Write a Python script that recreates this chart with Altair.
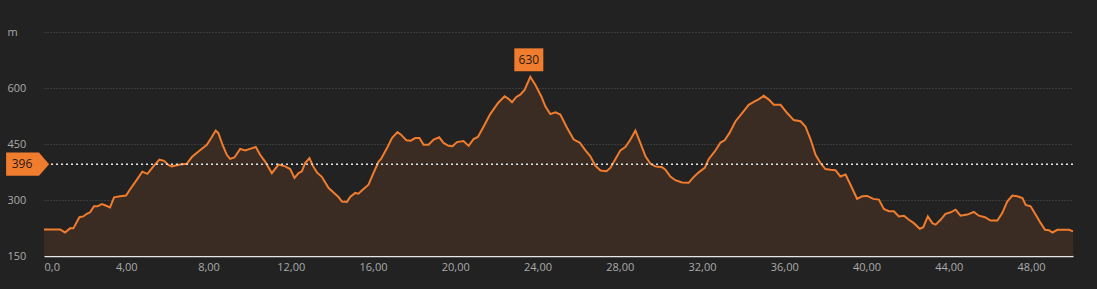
import altair as alt
import pandas as pd

# distance (km) and elevation (m) read from the profile
km = [0.0, 0.78, 1.02, 1.27, 1.43, 1.72, 1.91, 2.08, 2.24, 2.43, 2.60, 2.81, 2.97, 3.21, 3.41, 3.70, 3.99,
      4.18, 4.51, 4.78, 5.03, 5.32, 5.61, 5.84, 6.05, 6.21, 6.62, 6.94, 7.19, 7.51, 7.92, 8.13, 8.35, 8.48,
      8.68, 8.89, 9.05, 9.26, 9.54, 9.78, 10.02, 10.30, 10.51, 10.75, 11.08, 11.40, 11.73, 11.97, 12.18,
      12.38, 12.54, 12.70, 12.91, 13.07, 13.27, 13.51, 13.84, 14.08, 14.32, 14.49, 14.73, 14.89, 15.13,
      15.29, 15.51, 15.78, 16.02, 16.27, 16.39, 16.68, 16.92, 17.19, 17.36, 17.62, 17.84, 18.05, 18.26,
      18.46, 18.70, 18.95, 19.22, 19.43, 19.67, 19.87, 20.08, 20.40, 20.65, 20.89, 21.10, 21.38, 21.70,
      22.08, 22.40, 22.59, 22.76, 22.97, 23.16, 23.37, 23.65, 23.89, 24.18, 24.38, 24.62, 24.87, 25.11,
      25.44, 25.76, 26.05, 26.33, 26.57, 26.81, 27.06, 27.35, 27.54, 27.79, 28.03, 28.27, 28.52, 28.76,
      28.97, 29.25, 29.49, 29.73, 30.06, 30.22, 30.46, 30.70, 31.03, 31.35, 31.60, 31.84, 32.13, 32.33,
      32.62, 32.90, 33.10, 33.33, 33.63, 33.95, 34.27, 34.56, 34.79, 35.00, 35.25, 35.49, 35.82, 36.14,
      36.46, 36.79, 37.03, 37.28, 37.52, 37.76, 38.00, 38.25, 38.49, 38.73, 38.98, 39.22, 39.54, 39.79,
      40.03, 40.33, 40.60, 40.84, 41.08, 41.33, 41.57, 41.82, 42.06, 42.30, 42.59, 42.76, 42.98, 43.20,
      43.36, 43.60, 43.84, 44.09, 44.33, 44.57, 44.90, 45.22, 45.46, 45.76, 46.03, 46.36, 46.60, 46.84,
      47.09, 47.33, 47.58, 47.74, 47.98, 48.22, 48.47, 48.68, 48.87, 49.04, 49.28, 49.60, 49.85, 50.04]
elev = [221, 221, 213, 224, 224, 254, 256, 263, 267, 283, 283, 289, 286, 280, 307, 310, 312,
        328, 354, 376, 370, 390, 408, 405, 394, 390, 395, 397, 415, 430, 448, 466, 486, 479,
        448, 421, 410, 414, 437, 433, 437, 442, 421, 403, 372, 395, 390, 383, 359,
        372, 377, 399, 412, 392, 374, 362, 332, 320, 308, 296, 295, 308, 319,
        317, 328, 341, 372, 403, 410, 439, 466, 482, 475, 460, 459, 466, 466,
        448, 448, 462, 468, 453, 445, 444, 455, 458, 445, 463, 469, 497, 530,
        560, 578, 571, 562, 576, 582, 595, 630, 609, 578, 551, 530, 535, 529,
        493, 462, 454, 433, 417, 392, 379, 377, 386, 410, 433, 442, 462, 486,
        457, 417, 397, 390, 388, 381, 363, 353, 347, 346, 362, 374, 386, 410,
        430, 454, 460, 479, 511, 533, 555, 564, 571, 579, 569, 555, 555, 533,
        514, 511, 497, 462, 421, 399, 383, 381, 380, 363, 368, 341, 303, 310,
        311, 303, 301, 276, 270, 270, 256, 258, 247, 238, 223, 227, 256, 238,
        234, 247, 263, 267, 274, 258, 261, 268, 258, 254, 245, 245, 265, 296,
        312, 310, 305, 287, 283, 261, 238, 220, 219, 213, 220, 220, 220, 216]

avg_value = [396]
max_km = [23.65]
max_value = [630]
x_ticks = [0, 4, 8, 12, 16, 20, 24, 28, 32, 36, 40, 44, 48]
y_ticks = [150, 300, 450, 600, 750]

BG = "#222222"
ORANGE = "#f07c2e"
FILL = "#3a2b23"
LABEL = "#aaaaaa"
FONT = "Open Sans"

df = pd.DataFrame({"km": km, "elev": elev})
avg_df = pd.DataFrame({"elev": avg_value})
max_df = pd.DataFrame({"km": max_km, "elev": max_value})

xscale = alt.Scale(domain=[0, 50.04], nice=False, zero=False)
yscale = alt.Scale(domain=[150, 750], nice=False, zero=False)

x_enc = alt.X(
    "km:Q", scale=xscale, title=None,
    axis=alt.Axis(
        values=x_ticks,
        labelExpr="datum.value == 0 ? '0,0' : replace(format(datum.value, '.2f'), '.', ',')",
        grid=False, ticks=False, domain=True, domainColor="#e6e6e6", domainWidth=1.5,
        labelColor=LABEL, labelFont=FONT, labelFontSize=11, labelPadding=5, labelFlush=True,
    ),
)
y_enc = alt.Y(
    "elev:Q", scale=yscale, title=None,
    axis=alt.Axis(
        values=y_ticks,
        labelExpr="datum.value == 750 ? 'm' : datum.label",
        grid=True, gridColor="#555555", gridDash=[1, 2], gridWidth=1,
        ticks=False, domain=False,
        labelAlign="left", labelPadding=37, labelBaseline="middle",
        labelColor=LABEL, labelFont=FONT, labelFontSize=11,
    ),
)

area = alt.Chart(df).mark_area(color=FILL, opacity=1).encode(
    x=x_enc, y=y_enc, y2=alt.datum(150)
)
line = alt.Chart(df).mark_line(color=ORANGE, strokeWidth=2).encode(
    x=alt.X("km:Q", scale=xscale), y=alt.Y("elev:Q", scale=yscale)
)
avg_rule = alt.Chart(avg_df).mark_rule(color="#e6e6e6", strokeDash=[2, 3], strokeWidth=1.5).encode(
    y=alt.Y("elev:Q", scale=yscale)
)
avg_tag = alt.Chart(avg_df).mark_point(
    shape="M-1,-0.544 L0.53,-0.544 L1,0 L0.53,0.544 L-1,0.544 Z",
    size=1849, filled=True, color=ORANGE, opacity=1, strokeWidth=0,
).encode(x=alt.value(-16.4), y=alt.Y("elev:Q", scale=yscale))
avg_text = alt.Chart(avg_df).mark_text(
    color="#2a1a10", font=FONT, fontSize=12, align="center", baseline="middle",
).encode(x=alt.value(-22), y=alt.Y("elev:Q", scale=yscale), text=alt.Text("elev:Q", format="d"))

max_tag = alt.Chart(max_df).mark_point(
    shape="M-1,-0.79 L1,-0.79 L1,0.79 L-1,0.79 Z",
    size=841, filled=True, color=ORANGE, opacity=1, strokeWidth=0, yOffset=-17, xOffset=-1.5,
).encode(x=alt.X("km:Q", scale=xscale), y=alt.Y("elev:Q", scale=yscale))
max_text = alt.Chart(max_df).mark_text(
    color="#2a1a10", font=FONT, fontSize=12, align="center", baseline="middle", dy=-17, dx=-1.5,
).encode(x=alt.X("km:Q", scale=xscale), y=alt.Y("elev:Q", scale=yscale), text=alt.Text("elev:Q", format="d"))

chart = alt.layer(area, line, avg_rule, avg_tag, avg_text, max_tag, max_text).properties(
    width=1029, height=224, background=BG,
    padding={"left": 44, "top": 32, "right": 24, "bottom": 33},
    autosize=alt.AutoSizeParams(type="none"),
).configure_view(stroke=None)

chart.save("out.html", embed_options={"renderer": "svg", "actions": False})
